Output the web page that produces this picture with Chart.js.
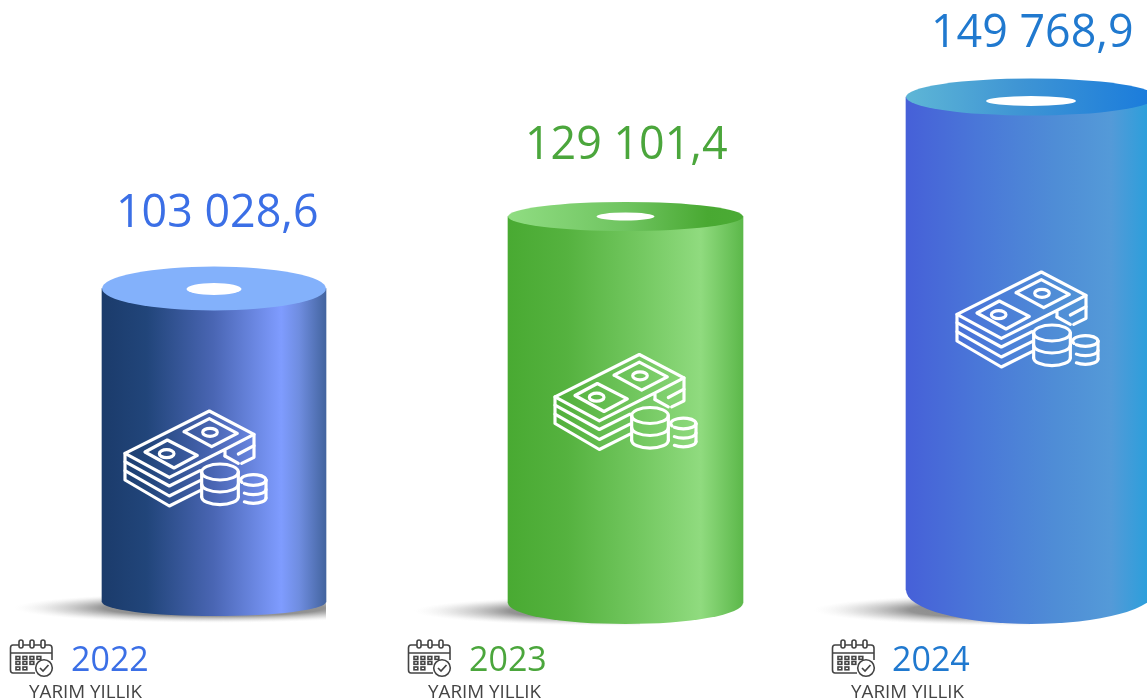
<!DOCTYPE html>
<html><head><meta charset="utf-8">
<style>html,body{margin:0;padding:0;background:#fff}canvas{display:block}</style>
<script src="https://cdn.jsdelivr.net/npm/chart.js@4"></script></head>
<body><canvas id="c" width="1147" height="700"></canvas>
<script>
const categories = ['2022', '2023', '2024'];
const values = [103028.6, 129101.4, 149768.9];
const valueLabels = ['103 028,6', '129 101,4', '149 768,9'];
const periodLabel = 'YARIM YILLIK';

const widths = [224, 235, 250];
const shifts = [0, 3, 0];
const topRy = [22, 14.5, 18.5];
const bottomRy = [14, 21, 34];
const holes = [[27.5, 6, 0.5], [29, 4, 0], [45, 5, 4]];
const textColors = ['#3b6fe6', '#4ba63c', '#2079cf'];
const sideStops = [
  [[0, '#1b3b6b'], [0.2, '#21457a'], [0.5, '#4a66b4'], [0.8, '#7f9cff'], [0.88, '#6f8de0'], [1, '#43649f']],
  [[0, '#49aa32'], [0.25, '#55b23f'], [0.55, '#72c75f'], [0.82, '#90db7f'], [1, '#5cb84a']],
  [[0, '#4660d8'], [0.3, '#4a78d8'], [0.6, '#4f8dd6'], [0.82, '#549ad8'], [1, '#23a0dc']]
];
const topStops = [
  [[0, '#83b1fb'], [1, '#83b1fb']],
  [[0, '#90dd82'], [0.5, '#6fc460'], [0.85, '#49a932'], [1, '#4bab35']],
  [[0, '#5eb6d6'], [0.45, '#3f95d4'], [1, '#197bdc']]
];
const valueText = [[116, 227], [525, 159], [931, 47]];
const yearText = [[71, 671], [469, 671], [892, 671]];
const periodText = [[29, 698], [428, 698], [851, 698]];
const iconOffset = [[0, 0], [430, -56.5], [832, -139]];
const calendarOffset = [0, 398, 822];
const shadow = [[214, 608, 200, 15, 326], [626, 611, 212, 15, 640], [1026, 610, 212, 16, 1030]];

const canvas = document.getElementById('c');
function grad(ctx, a, b, stops) {
  const g = ctx.createLinearGradient(a, 0, b, 0);
  stops.forEach(s => g.addColorStop(s[0], s[1]));
  return g;
}
function bounds(chart, i) {
  const c = chart.scales.x.getPixelForValue(i) + shifts[i];
  return [c - widths[i] / 2, c + widths[i] / 2, c];
}
function drawMoney(ctx, ox, oy) {
  ctx.save();
  ctx.translate(110 + ox, 400 + oy);
  ctx.scale(1 / 3, 1 / 3);
  ctx.strokeStyle = '#fff';
  ctx.lineWidth = 9.5;
  ctx.lineJoin = 'round';
  ctx.lineCap = 'round';
  const P = pts => { ctx.beginPath(); pts.forEach((p, i) => i ? ctx.lineTo(p[0], p[1]) : ctx.moveTo(p[0], p[1])); ctx.stroke(); };
  P([[45, 160], [298, 33], [432, 103], [345, 148], [345, 168], [345, 148], [178, 232], [45, 160]]);
  P([[45, 160], [45, 185], [178, 258], [270, 212]]);
  P([[45, 185], [45, 212], [178, 288], [270, 242]]);
  P([[45, 212], [45, 240], [178, 318], [270, 272]]);
  P([[432, 103], [432, 172], [395, 190]]);
  P([[432, 137], [385, 162]]);
  P([[345, 168], [385, 190]]);
  P([[105, 156], [172, 120], [262, 166], [192, 204], [105, 156]]);
  P([[222, 95], [298, 56], [382, 100], [305, 140], [222, 95]]);
  [[170, 161], [300, 97]].forEach(e => {
    ctx.beginPath(); ctx.ellipse(e[0], e[1], 22, 12, 0, 0, 7); ctx.stroke();
  });
  // coins
  ctx.beginPath(); ctx.ellipse(330, 216, 55, 24, 0, 0, 7); ctx.stroke();
  P([[275, 216], [275, 290]]); P([[385, 216], [385, 290]]);
  [252, 290].forEach(y => { ctx.beginPath(); ctx.ellipse(330, y, 55, 24, 0, 0, Math.PI); ctx.stroke(); });
  ctx.beginPath(); ctx.ellipse(430, 240, 38, 16, 0, Math.PI * 0.85, Math.PI * 2.15); ctx.stroke();
  ctx.beginPath(); ctx.ellipse(430, 240, 38, 16, 0, 0, Math.PI * 0.75); ctx.stroke();
  P([[468, 240], [468, 294]]);
  [268, 294].forEach(y => { ctx.beginPath(); ctx.ellipse(430, y, 38, 16, 0, 0, Math.PI * 0.75); ctx.stroke(); });
  ctx.restore();
}
function drawCalendar(ctx, ox) {
  ctx.save();
  ctx.translate(ox, 0);
  ctx.strokeStyle = '#444';
  ctx.lineWidth = 1.6;
  ctx.beginPath(); ctx.moveTo(34, 645); ctx.lineTo(49, 645); ctx.quadraticCurveTo(52, 645, 52, 648); ctx.lineTo(52, 660);
  ctx.moveTo(35, 673); ctx.lineTo(13, 673); ctx.quadraticCurveTo(10.5, 673, 10.5, 670); ctx.lineTo(10.5, 648);
  ctx.quadraticCurveTo(10.5, 645, 13, 645); ctx.lineTo(34, 645); ctx.moveTo(10.5, 653); ctx.lineTo(52, 653); ctx.stroke();
  [21, 32, 43].forEach(x => { ctx.beginPath(); ctx.roundRect(x - 2, 640, 4, 8, 2); ctx.fillStyle = '#fff'; ctx.fill(); ctx.stroke(); });
  [[16, 656.5], [23, 656.5], [30, 656.5], [37, 656.5], [16, 661.5], [23, 661.5], [30, 661.5], [16, 667], [23, 667]].forEach(p => {
    ctx.strokeRect(p[0], p[1], 3.8, 2.8);
  });
  ctx.beginPath(); ctx.arc(44, 668, 8.3, 0, 7); ctx.fillStyle = '#fff'; ctx.fill(); ctx.stroke();
  ctx.lineWidth = 1.7;
  ctx.beginPath(); ctx.moveTo(40, 668); ctx.lineTo(43, 671); ctx.lineTo(48.5, 665); ctx.stroke();
  ctx.restore();
}
const cylinder = {
  id: 'cylinder',
  afterDatasetsUpdate(chart) {
    chart.data.datasets.forEach((d, i) => {
      const el = chart.getDatasetMeta(i).data[i];
      el.x = bounds(chart, i)[2];
    });
  },
  beforeDatasetDraw(chart, args) {
    const i = args.index, ctx = chart.ctx, el = chart.getDatasetMeta(i).data[i];
    const [l, r, c] = bounds(chart, i);
    const s = shadow[i];
    ctx.save();
    ctx.beginPath(); ctx.rect(0, 560, s[4], 140); ctx.clip();
    ctx.translate(s[0], s[1]); ctx.scale(1, s[3] / s[2]);
    const rg = ctx.createRadialGradient(0, 0, 0, 0, 0, s[2]);
    rg.addColorStop(0, 'rgba(110,110,110,0.9)');
    rg.addColorStop(0.55, 'rgba(120,120,120,0.8)');
    rg.addColorStop(0.8, 'rgba(180,180,180,0.4)');
    rg.addColorStop(1, 'rgba(230,230,230,0)');
    ctx.fillStyle = rg;
    ctx.beginPath(); ctx.arc(0, 0, s[2], 0, 7); ctx.fill();
    ctx.restore();
    ctx.save();
    ctx.fillStyle = grad(ctx, l, r, sideStops[i]);
    ctx.beginPath(); ctx.ellipse(c, el.base, widths[i] / 2, bottomRy[i], 0, 0, Math.PI); ctx.fill();
    ctx.restore();
  },
  afterDatasetDraw(chart, args) {
    const i = args.index, ctx = chart.ctx, el = chart.getDatasetMeta(i).data[i];
    const [l, r, c] = bounds(chart, i);
    ctx.save();
    ctx.fillStyle = grad(ctx, l, r, topStops[i]);
    ctx.beginPath(); ctx.ellipse(c, el.y, widths[i] / 2, topRy[i], 0, 0, 7); ctx.fill();
    ctx.fillStyle = '#fff';
    ctx.beginPath(); ctx.ellipse(c, el.y + holes[i][2], holes[i][0], holes[i][1], 0, 0, 7); ctx.fill();
    ctx.restore();
    drawMoney(ctx, iconOffset[i][0], iconOffset[i][1]);
    drawCalendar(ctx, calendarOffset[i]);
    ctx.save();
    ctx.textAlign = 'left'; ctx.textBaseline = 'alphabetic';
    ctx.fillStyle = textColors[i];
    ctx.font = '44.8px "Open Sans"';
    ctx.fillText(valueLabels[i], valueText[i][0], valueText[i][1]);
    ctx.font = '34px "Open Sans"';
    ctx.fillText(categories[i], yearText[i][0], yearText[i][1]);
    ctx.fillStyle = '#444';
    ctx.font = '18.8px "Open Sans"';
    ctx.fillText(periodLabel, periodText[i][0], periodText[i][1]);
    ctx.restore();
  }
};
new Chart(canvas, {
  type: 'bar',
  data: {
    labels: categories,
    datasets: categories.map((y, i) => ({
      label: y,
      data: categories.map((_, j) => j === i ? values[i] : null),
      yAxisID: 'y' + y,
      grouped: false,
      clip: false,
      barThickness: widths[i],
      borderWidth: 0,
      backgroundColor: c => {
        const b = bounds(c.chart, i);
        if (!Number.isFinite(b[0])) return sideStops[i][0][1];
        return grad(c.chart.ctx, b[0], b[1], sideStops[i]);
      }
    }))
  },
  options: {
    responsive: false,
    animation: false,
    layout: { padding: { left: 214, right: 116, top: 0, bottom: 0 } },
    plugins: { legend: { display: false }, tooltip: { enabled: false }, title: { display: false } },
    scales: {
      x: { display: false, offset: false },
      y2022: { display: false, min: -32206, max: 197839 },
      y2023: { display: false, min: -32401, max: 201416 },
      y2024: { display: false, min: -33417, max: 179235 }
    }
  },
  plugins: [cylinder]
});
</script></body></html>
